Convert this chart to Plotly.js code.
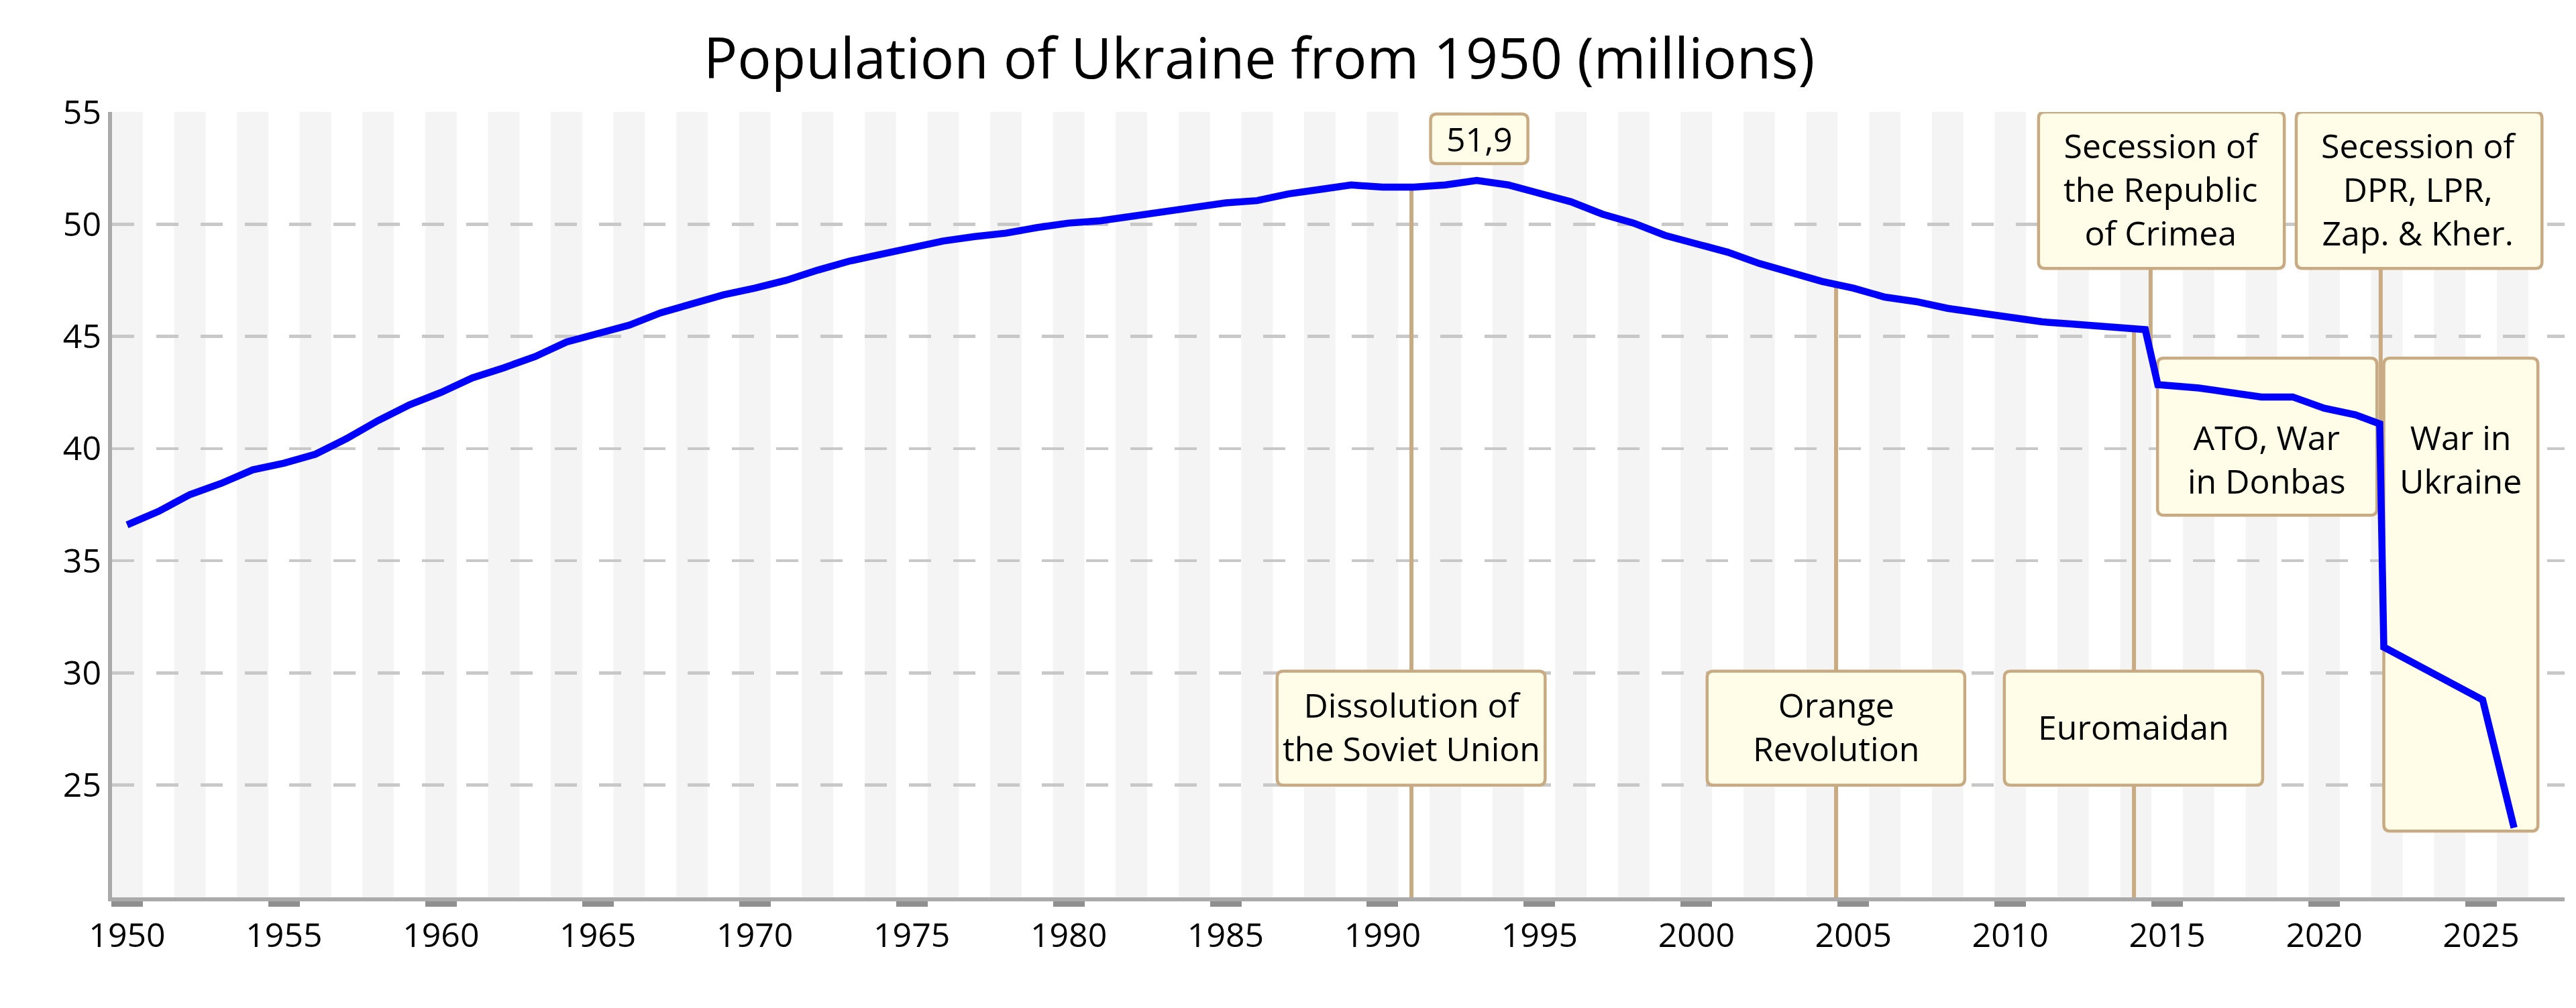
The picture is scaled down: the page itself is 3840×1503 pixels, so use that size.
<!DOCTYPE html>
<html>
<head>
<meta charset="utf-8">
<script src="https://cdn.plot.ly/plotly-3.0.1.min.js"></script>
<style>
  html, body { margin: 0; padding: 0; background: #fff; }
  #chart { width: 3840px; height: 1503px; }
</style>
</head>
<body>
<div id="chart"></div>
<script>
// population of Ukraine, millions
const years = [
  1950, 1951, 1952, 1953, 1954, 1955, 1956, 1957, 1958, 1959,
  1960, 1961, 1962, 1963, 1964, 1965, 1966, 1967, 1968, 1969,
  1970, 1971, 1972, 1973, 1974, 1975, 1976, 1977, 1978, 1979,
  1980, 1981, 1982, 1983, 1984, 1985, 1986, 1987, 1988, 1989,
  1990, 1991, 1992, 1993, 1994, 1995, 1996, 1997, 1998, 1999,
  2000, 2001, 2002, 2003, 2004, 2005, 2006, 2007, 2008, 2009,
  2010, 2011, 2012, 2013, 2014.3, 2014.7, 2016, 2017, 2018, 2019,
  2020, 2021, 2021.77, 2021.9, 2025.05, 2026.05
];
const population = [
  36.6, 37.2, 37.95, 38.45, 39.05, 39.35, 39.75, 40.45, 41.25, 41.95,
  42.5, 43.15, 43.6, 44.1, 44.75, 45.1, 45.5, 46.05, 46.45, 46.85,
  47.15, 47.5, 47.95, 48.35, 48.65, 48.95, 49.25, 49.45, 49.6, 49.85,
  50.05, 50.15, 50.35, 50.55, 50.75, 50.95, 51.05, 51.35, 51.55, 51.75,
  51.65, 51.65, 51.75, 51.95, 51.75, 51.4, 51.0, 50.45, 50.05, 49.5,
  49.15, 48.75, 48.25, 47.85, 47.45, 47.15, 46.75, 46.55, 46.25, 46.05,
  45.85, 45.65, 45.55, 45.45, 45.3, 42.85, 42.7, 42.5, 42.3, 42.3,
  41.8, 41.5, 41.1, 31.15, 28.8, 23.1
];

// event marker lines: x position, and where the line starts (null = at the curve)
const eventX = [1990.92, 2004.45, 2013.94, 2014.47, 2021.8];
const eventFrom = [null, null, null, 48.03, 48.03];
const eventTo = [20, 20, 20, null, null];

const xTicks = [1950, 1955, 1960, 1965, 1970, 1975, 1980, 1985, 1990, 1995, 2000, 2005, 2010, 2015, 2020, 2025];
const yTicks = [25, 30, 35, 40, 45, 50, 55];

const boxes = [
  { text: '51,9', x0: 1991.53, x1: 1994.63, y0: 52.7, y1: 54.91, tx: 1993.08, ty: 53.8 },
  { text: 'Dissolution of<br>the Soviet Union', x0: 1986.64, x1: 1995.18, y0: 25.0, y1: 30.08, tx: 1990.91, ty: 27.6 },
  { text: 'Orange<br>Revolution', x0: 2000.34, x1: 2008.55, y0: 25.0, y1: 30.08, tx: 2004.45, ty: 27.6 },
  { text: 'Euromaidan', x0: 2009.81, x1: 2018.04, y0: 25.0, y1: 30.08, tx: 2013.93, ty: 27.6 },
  { text: 'Secession of<br>the Republic<br>of Crimea', x0: 2010.9, x1: 2018.73, y0: 48.03, y1: 55, tx: 2014.82, ty: 51.55 },
  { text: 'Secession of<br>DPR, LPR,<br>Zap. &amp; Kher.', x0: 2019.11, x1: 2026.94, y0: 48.03, y1: 55, tx: 2023.02, ty: 51.55 },
  { text: 'ATO, War<br>in Donbas', x0: 2014.69, x1: 2021.68, y0: 37.03, y1: 44.03, tx: 2018.18, ty: 39.54 },
  { text: 'War in<br>Ukraine', x0: 2021.9, x1: 2026.81, y0: 22.95, y1: 44.03, tx: 2024.35, ty: 39.54 }
];

const TAN = '#c8ab82';
const CREAM = '#fffde8';
const FONT = 'Open Sans, Noto Sans, sans-serif';

function valueAt(x) {
  for (let i = 1; i < years.length; i++) {
    if (x <= years[i]) {
      const t = (x - years[i - 1]) / (years[i] - years[i - 1]);
      return population[i - 1] + t * (population[i] - population[i - 1]);
    }
  }
  return population[population.length - 1];
}

function roundRect(x0, x1, y0, y1) {
  const rx = 0.2, ry = 0.28;
  return `M ${x0 + rx},${y0} L ${x1 - rx},${y0} Q ${x1},${y0} ${x1},${y0 + ry} ` +
    `L ${x1},${y1 - ry} Q ${x1},${y1} ${x1 - rx},${y1} L ${x0 + rx},${y1} ` +
    `Q ${x0},${y1} ${x0},${y1 - ry} L ${x0},${y0 + ry} Q ${x0},${y0} ${x0 + rx},${y0} Z`;
}

const shapes = [];

// alternating year bands
for (let yr = 1950; yr <= 2026; yr += 2) {
  shapes.push({
    type: 'rect', xref: 'x', yref: 'y', layer: 'below',
    x0: yr - 0.5, x1: yr + 0.5, y0: 20, y1: 55,
    fillcolor: '#f4f4f4', line: { width: 0 }
  });
}

eventX.forEach((x, i) => {
  const from = eventFrom[i] === null ? valueAt(x) : eventFrom[i];
  const to = eventTo[i] === null ? valueAt(x) : eventTo[i];
  shapes.push({
    type: 'line', xref: 'x', yref: 'y', layer: 'between',
    x0: x, x1: x, y0: from, y1: to,
    line: { color: TAN, width: 6 }
  });
});

boxes.forEach(b => {
  shapes.push({
    type: 'path', xref: 'x', yref: 'y', layer: 'between',
    path: roundRect(b.x0, b.x1, b.y0, b.y1),
    fillcolor: CREAM, line: { color: TAN, width: 4.5 }
  });
});

const annotations = boxes.map(b => ({
  x: b.tx, y: b.ty, xref: 'x', yref: 'y',
  text: b.text, showarrow: false, align: 'center',
  xanchor: 'center', yanchor: 'middle',
  font: { family: FONT, size: 50, color: '#000' }
}));

const traces = [{
  x: years, y: population,
  type: 'scatter', mode: 'lines',
  line: { color: '#0000ff', width: 10.5 },
  hoverinfo: 'x+y'
}];

Plotly.newPlot('chart', traces, {
  width: 3840, height: 1503,
  margin: { l: 167, r: 17, t: 167, b: 165 },
  paper_bgcolor: '#fff', plot_bgcolor: '#fff',
  showlegend: false,
  font: { family: FONT, size: 50, color: '#000' },
  title: {
    text: 'Population of Ukraine from 1950 (millions)',
    font: { family: FONT, size: 84, color: '#000' },
    x: 0.4888, xref: 'container', xanchor: 'center',
    y: 0.942, yref: 'container', yanchor: 'middle'
  },
  xaxis: {
    range: [1949.52, 2027.66],
    tickvals: xTicks,
    showgrid: false, zeroline: false,
    showline: true, linecolor: '#aaaaaa', linewidth: 6,
    ticks: 'outside', ticklen: 8, tickwidth: 47, tickcolor: '#8f8f8f',
    tickfont: { family: FONT, size: 50, color: '#000' }
  },
  yaxis: {
    range: [20, 55],
    tickvals: yTicks,
    showgrid: true, gridcolor: '#c8c8c8', gridwidth: 4.5, griddash: '33px,33px',
    zeroline: false,
    showline: true, linecolor: '#aaaaaa', linewidth: 6,
    ticks: '',
    tickfont: { family: FONT, size: 50, color: '#000' }
  },
  shapes: shapes,
  annotations: annotations
}, { displayModeBar: false, staticPlot: true });
</script>
</body>
</html>
